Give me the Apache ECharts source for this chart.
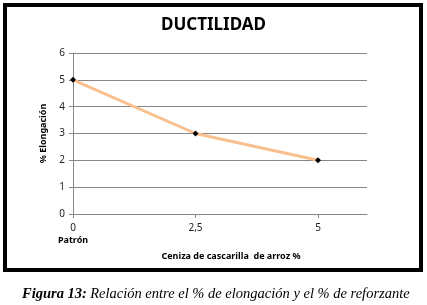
<!DOCTYPE html>
<html>
<head>
<meta charset="utf-8">
<script src="https://cdn.jsdelivr.net/npm/echarts@6/dist/echarts.min.js"></script>
<style>
  html, body { margin: 0; padding: 0; background: #fff; }
  #chart { width: 427px; height: 305px; }
</style>
</head>
<body>
<div id="chart"></div>
<script>
    // ceniza de cascarilla de arroz (%) vs % elongacion
    var ashPercent = [0, 2.5, 5];
    var elongation = [5, 3, 2];
    var xTickValues = [0, 2.5, 5];
    var xTickLabels = ['0\n{p|Patrón}', '2,5', '5'];

    var points = [];
    for (var i = 0; i < ashPercent.length; i++) {
        points.push([ashPercent[i], elongation[i]]);
    }

    var chart = echarts.init(document.getElementById('chart'));

    chart.setOption({
        backgroundColor: '#fff',
        animation: false,
        title: {
            text: 'DUCTILIDAD',
            left: 'center',
            top: 12,
            textStyle: {
                fontFamily: 'Noto Sans',
                fontSize: 17,
                fontWeight: 'bold',
                color: '#000'
            }
        },
        grid: {
            left: 73,
            right: 60,
            top: 53,
            bottom: 91
        },
        xAxis: {
            type: 'value',
            min: 0,
            max: 6,
            interval: 2.5,
            name: 'Ceniza de cascarilla  de arroz %',
            nameLocation: 'middle',
            nameGap: 38,
            nameTextStyle: {
                fontFamily: 'Noto Sans',
                fontSize: 9,
                fontWeight: 'bold',
                color: '#000',
                padding: [0, 0, 0, 22]
            },
            splitLine: { show: false },
            axisLine: { lineStyle: { color: '#868686', width: 1 } },
            axisTick: {
                customValues: xTickValues,
                length: 4,
                lineStyle: { color: '#868686' }
            },
            axisLabel: {
                customValues: xTickValues,
                margin: 8,
                fontFamily: 'Noto Sans',
                fontSize: 10,
                lineHeight: 12,
                color: '#222',
                formatter: function (v) {
                    var idx = xTickValues.indexOf(v);
                    return idx >= 0 ? xTickLabels[idx] : '';
                },
                rich: {
                    p: {
                        fontFamily: 'Noto Sans',
                        fontSize: 9,
                        fontWeight: 'bold',
                        lineHeight: 12,
                        color: '#000'
                    }
                }
            }
        },
        yAxis: {
            type: 'value',
            min: 0,
            max: 6,
            interval: 1,
            name: '% Elongación',
            nameLocation: 'middle',
            nameGap: 20,
            nameTextStyle: {
                fontFamily: 'Noto Sans',
                fontSize: 9,
                fontWeight: 'bold',
                color: '#000'
            },
            splitLine: { lineStyle: { color: '#868686', width: 1 } },
            axisLine: { show: true, lineStyle: { color: '#868686', width: 1 } },
            axisTick: { show: true, length: 4, lineStyle: { color: '#868686' } },
            axisLabel: {
                margin: 8,
                fontFamily: 'Noto Sans',
                fontSize: 10,
                color: '#222'
            }
        },
        series: [
            {
                type: 'line',
                data: points,
                symbol: 'diamond',
                symbolSize: 6,
                itemStyle: { color: '#000' },
                lineStyle: { color: '#F9BF8F', width: 3 },
                z: 3
            }
        ],
        graphic: [
            {
                type: 'rect',
                shape: { x: 5, y: 5, width: 416, height: 265 },
                style: { fill: null, stroke: '#000', lineWidth: 4 },
                z: 10
            },
            {
                type: 'text',
                left: 22,
                top: 287,
                style: {
                    text: '{b|Figura 13:} {n|Relación entre el % de elongación y el % de reforzante}',
                    rich: {
                        b: {
                            fontFamily: 'Liberation Serif',
                            fontStyle: 'italic',
                            fontWeight: 'bold',
                            fontSize: 14.5,
                            fill: '#000'
                        },
                        n: {
                            fontFamily: 'Liberation Serif',
                            fontStyle: 'italic',
                            fontSize: 14.5,
                            fill: '#000'
                        }
                    }
                }
            }
        ]
    });
</script>
</body>
</html>
